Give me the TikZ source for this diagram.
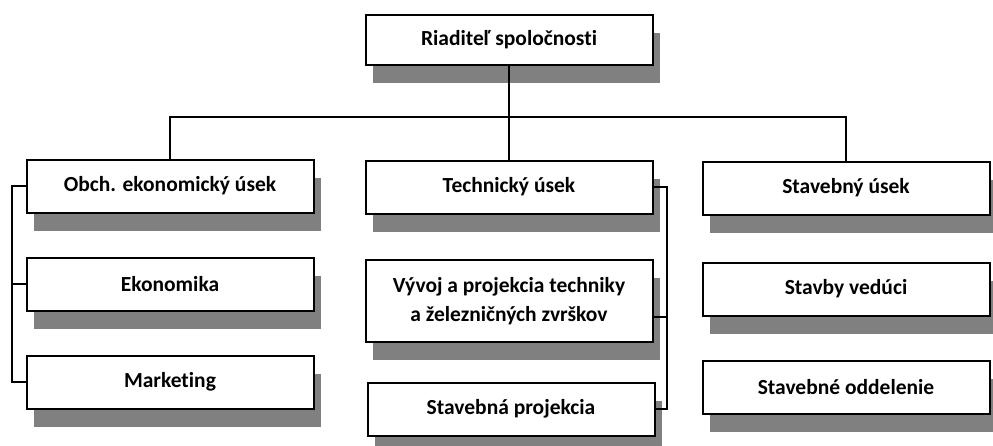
\documentclass[tikz,border=0pt]{standalone}
\usepackage{fontspec}
\setmainfont{Carlito}[RawFeature=-liga]
\usetikzlibrary{shadows}

\tikzset{
  usek/.style={draw, line width=2pt, fill=white, minimum width=287pt, minimum height=53pt,
    inner sep=2pt, font=\fontsize{21.5}{29}\selectfont\bfseries,
    drop shadow={shadow xshift=7pt, shadow yshift=-18pt, fill=black!50, opacity=1}},
  spoj/.style={line width=1.8pt}
}

\begin{document}
\begin{tikzpicture}[x=1pt,y=-1pt]
        \useasboundingbox (0,0) rectangle (993,445);
        % Vedenie
        \node[usek, minimum height=50pt] (riaditel) at (509,40) {Riaditeľ spoločnosti};
        % Obchodno-ekonomický úsek
        \node[usek] (obch) at (170,186) {Obch. ekonomický úsek};
        \node[usek] (ekonomika) at (170,284) {Ekonomika};
        \node[usek] (marketing) at (170,382) {Marketing};
        % Technický úsek
        \node[usek] (technicky) at (509,187) {Technický úsek};
        \node[usek, minimum height=82pt, align=center] (vyvoj) at (509,301) {Vývoj a projekcia techniky\\a železničných zvrškov};
        \node[usek] (projekcia) at (511,409) {Stavebná projekcia};
        % Stavebný úsek
        \node[usek] (stavebny) at (846,188) {Stavebný úsek};
        \node[usek] (veduci) at (846,289) {Stavby vedúci};
        \node[usek] (oddelenie) at (846,387) {Stavebné oddelenie};
        % Spoje
        \coordinate (zbernica) at (509,117);
        \draw[spoj] (riaditel) -- (technicky);
        \draw[spoj] (obch.north) |- (zbernica) -| (stavebny.north);
        \coordinate (lavy) at (12,186);
        \draw[spoj] (obch.west) -- (lavy) |- (marketing.west);
        \draw[spoj] (ekonomika.west) -- (ekonomika.west -| lavy);
        \coordinate (pravy) at (667,187);
        \draw[spoj] (technicky.east) -- (pravy) |- (projekcia.east);
        \draw[spoj] ([yshift=-16pt]vyvoj.east) -- ([yshift=-16pt]vyvoj.east -| pravy);
\end{tikzpicture}
\end{document}
